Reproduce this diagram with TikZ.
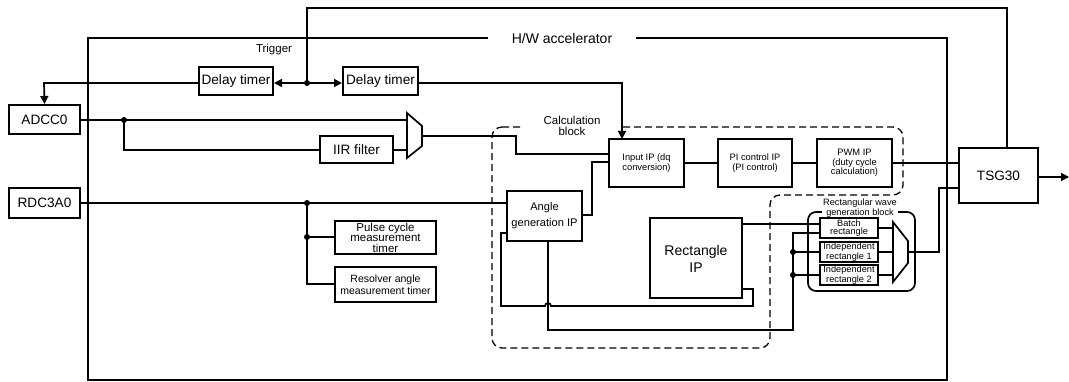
\documentclass[tikz,border=0pt]{standalone}
\usepackage{fontspec}
\setmainfont{Liberation Sans}
\usetikzlibrary{arrows.meta}
\begin{document}
\begin{tikzpicture}[x=1pt,y=-1pt,
  box/.style={draw,line width=2pt,inner sep=0pt,align=center,fill=white},
  sig/.style={line width=1.7pt},
  thk/.style={line width=2pt},
  arr/.style={sig,-{Triangle[length=8pt,width=8pt]}},
  jdot/.style={circle,fill,inner sep=0pt,minimum size=6pt},
  fL/.style={font=\fontsize{13.6}{15}\selectfont},
  fR/.style={font=\fontsize{14}{17}\selectfont},
  fM/.style={font=\fontsize{11.5}{10.5}\selectfont},
  fN/.style={font=\fontsize{10.5}{12.3}\selectfont},
  fS/.style={font=\fontsize{9.3}{10}\selectfont},
  fT/.style={font=\fontsize{9.2}{7.8}\selectfont},
]
\useasboundingbox (0,0) rectangle (1069,382);

% outer H/W accelerator box
\draw[line width=2.5pt] (88,38) rectangle (947,380);
\node[fill=white,inner xsep=24pt,inner ysep=2pt,fR] (hw) at (562,38) {H/W accelerator};
\node[fM] (trg) at (274,50) {Trigger};

% calculation block (dashed)
\draw[line width=1.3pt,dash pattern=on 7pt off 4pt,rounded corners=10pt]
  (492,127) -- (903,127) -- (903,195) -- (770,195) -- (770,348) -- (492,348) -- cycle;
\node[fill=white,inner sep=1pt,minimum width=96pt,align=center,fM] (calc) at (572,126) {Calculation\\block};

% rectangular wave generation block
\draw[sig,rounded corners=8pt] (808,212) rectangle (915,291);
\node[fill=white,inner sep=0pt,minimum width=76pt,align=center,fT] (rwlab) at (860,208) {Rectangular wave\\generation block};

% boxes
\node[box,minimum width=74pt,minimum height=28pt,fL] (dt1) at (236,81) {Delay timer};
\node[box,minimum width=75pt,minimum height=28pt,fL] (dt2) at (380.5,81) {Delay timer};
\node[box,minimum width=71pt,minimum height=29pt,fL] (adcc) at (44.5,119.5) {ADCC0};
\node[box,minimum width=73pt,minimum height=27pt,fL] (iir) at (356.5,149.5) {IIR filter};
\node[box,minimum width=71pt,minimum height=30pt,fL] (rdc) at (44.5,203) {RDC3A0};
\node[box,minimum width=101pt,minimum height=33pt,fM] (pulse) at (385.5,237.5) {Pulse cycle\\measurement\\timer};
\node[box,minimum width=101pt,minimum height=35pt,fN] (resv) at (385.5,284.5) {Resolver angle\\measurement timer};
\node[box,minimum width=75pt,minimum height=50pt,font=\fontsize{11.1}{16}\selectfont] (angle) at (544.5,216) {Angle\\generation IP};
\node[box,minimum width=75pt,minimum height=48pt,fS] (inp) at (646.5,163) {Input IP (dq\\conversion)};
\node[box,minimum width=74pt,minimum height=48pt,fS] (pi) at (755,163) {PI control IP\\(PI control)};
\node[box,minimum width=75pt,minimum height=48pt,font=\fontsize{9.3}{9.5}\selectfont] (pwm) at (854.5,163) {PWM IP\\(duty cycle\\calculation)};
\node[box,minimum width=79pt,minimum height=55pt,fL] (tsg) at (998.5,175.5) {TSG30};
\node[box,minimum width=92pt,minimum height=80pt,fR] (rip) at (696,258.5) {Rectangle\\IP};
\node[box,minimum width=58pt,minimum height=20pt,fT] (batch) at (849,228) {Batch\\rectangle};
\node[box,minimum width=58pt,minimum height=20pt,fT] (ind1) at (849,252) {Independent\\rectangle 1};
\node[box,minimum width=58pt,minimum height=20pt,fT] (ind2) at (849,275) {Independent\\rectangle 2};

% multiplexers
\draw[sig,fill=white] (407,113) -- (422,126) -- (422,146) -- (407,158) -- cycle;
\coordinate (m1a) at (407,120);
\coordinate (m1b) at (407,150);
\coordinate (m1o) at (422,136);
\draw[sig,fill=white] (893,222) -- (908,241) -- (908,263) -- (893,282) -- cycle;
\coordinate (m2a) at (893,228);
\coordinate (m2b) at (893,252);
\coordinate (m2c) at (893,275);
\coordinate (m2o) at (908,252);

% trigger network
\coordinate (tj) at (307,83);
\draw[thk] (tsg.north -| 1007,0) -- (1007,8) -- (307,8) -- (tj);
\draw[arr] (tj) -- (dt1.east |- tj);
\draw[arr] (tj) -- (dt2.west |- tj);
\node[jdot] at (tj) {};
\draw[arr] (dt1.west |- tj) -- (44,83) -- (adcc.north);
\draw[arr] (dt2.east |- tj) -- (622,83) -- (622,139);

% ADC path
\coordinate (aj) at (124,120);
\draw[sig] (adcc.east |- aj) -- (m1a);
\draw[sig] (aj) -- (124,150) -- (iir.west |- 0,150);
\draw[sig] (iir.east |- 0,150) -- (m1b);
\node[jdot] at (aj) {};
\draw[sig] (m1o) -- (516,136) -- (516,154) -- (inp.west |- 0,154);

% calculation chain
\draw[sig] (inp.east) -- (pi.west);
\draw[sig] (pi.east) -- (pwm.west);
\draw[sig] (pwm.east) -- (tsg.west |- pwm.east);
\draw[arr] (tsg.east |- 0,177) -- (1069,177);

% RDC path
\coordinate (rj1) at (307,203);
\coordinate (rj2) at (307,237);
\draw[sig] (rdc.east) -- (angle.west |- rdc.east);
\draw[sig] (rj1) -- (307,284) -- (resv.west |- 0,284);
\draw[sig] (rj2) -- (pulse.west |- rj2);
\node[jdot] at (rj1) {};
\node[jdot] at (rj2) {};

% angle generation outputs
\draw[sig] (angle.east |- 0,215) -- (592,215) -- (592,162) -- (inp.west |- 0,162);
\draw[sig] (angle.west |- 0,233) -- (501,233) -- (501,306) -- (545,306)
  arc[start angle=180,end angle=0,radius=3pt] -- (753,306) -- (753,289) -- (rip.east |- 0,289);
\coordinate (bj1) at (793,252);
\coordinate (bj2) at (793,275);
\draw[sig] (angle.south -| 548,0) -- (548,330) -- (793,330) -- (793,233) -- (batch.west |- 0,233);
\draw[sig] (bj1) -- (ind1.west);
\draw[sig] (bj2) -- (ind2.west);
\node[jdot] at (bj1) {};
\node[jdot] at (bj2) {};
\draw[sig] (rip.east |- 0,224) -- (batch.west |- 0,224);

% rectangle outputs
\draw[sig] (batch.east) -- (m2a);
\draw[sig] (ind1.east) -- (m2b);
\draw[sig] (ind2.east) -- (m2c);
\draw[sig] (m2o) -- (939,252) -- (939,188) -- (tsg.west |- 0,188);
\end{tikzpicture}
\end{document}
